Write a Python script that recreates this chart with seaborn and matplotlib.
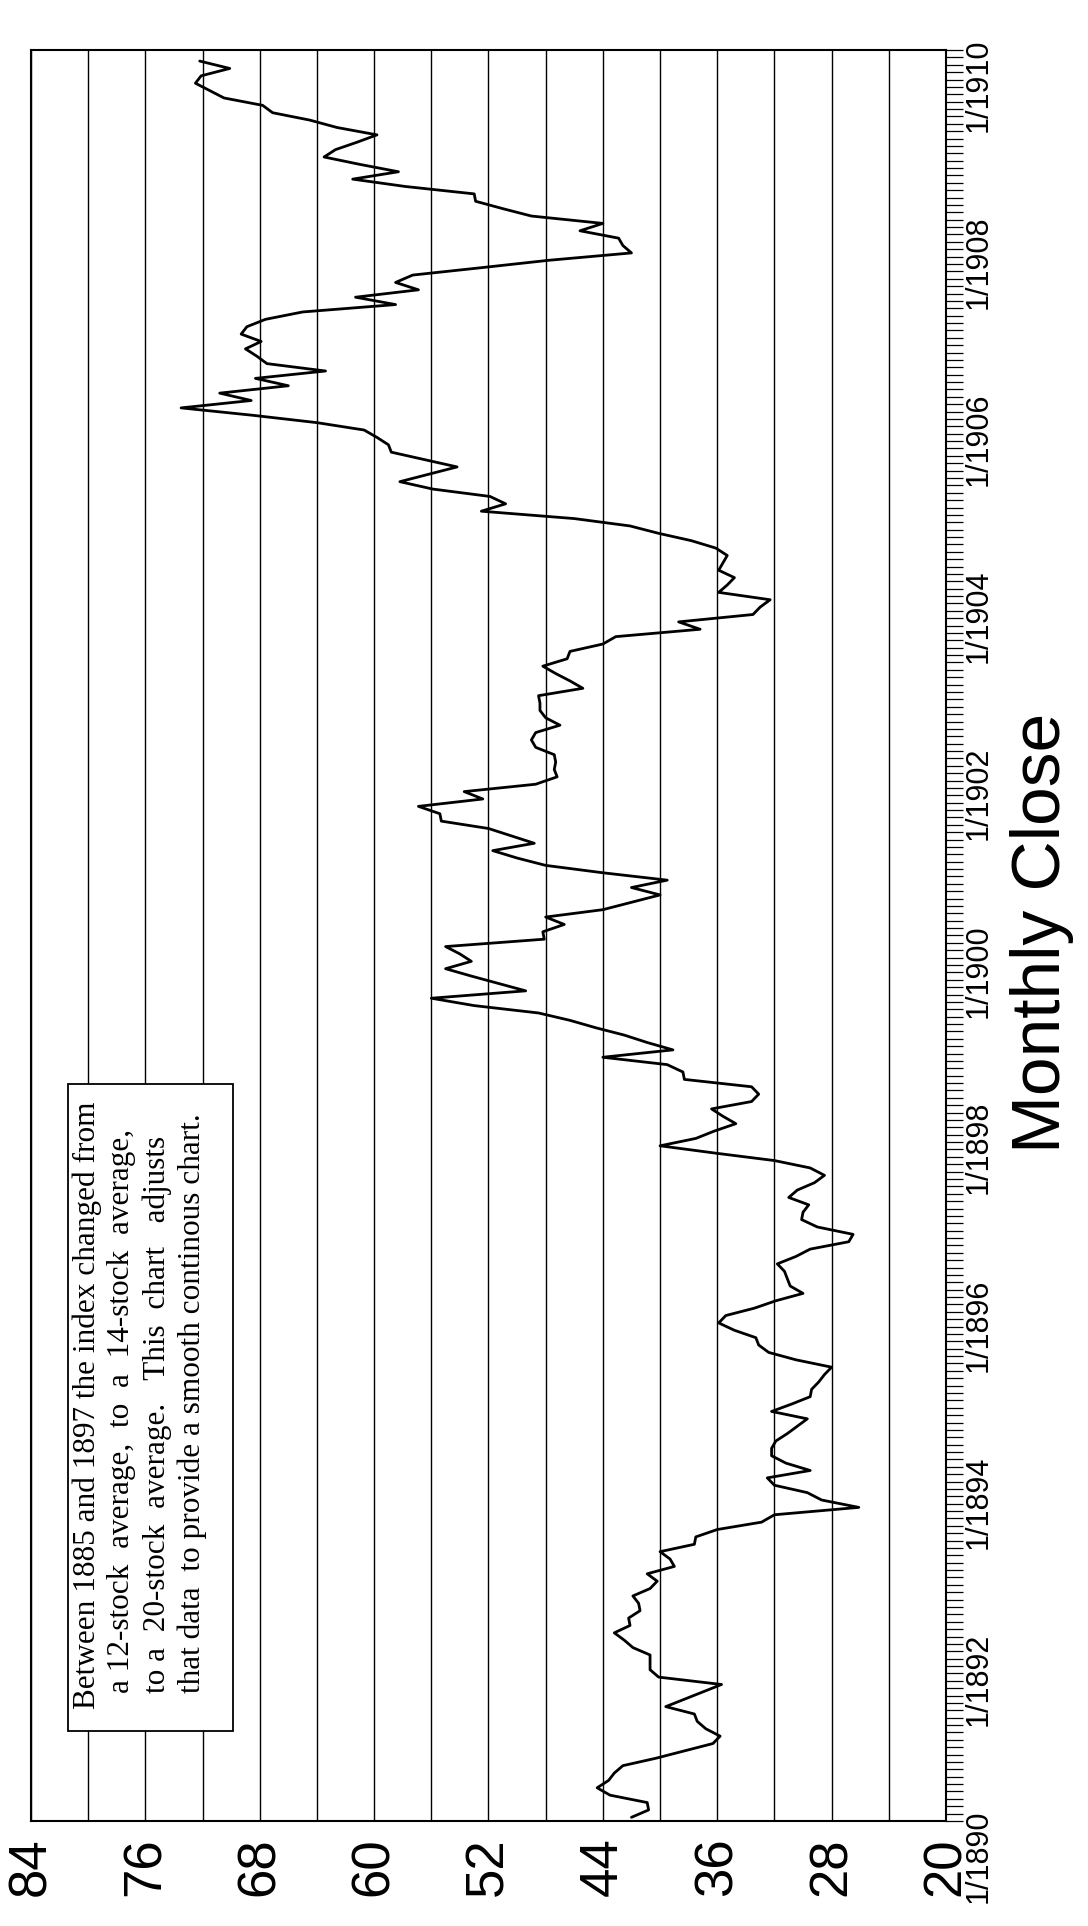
import numpy as np
import pandas as pd
import matplotlib
matplotlib.use("Agg")
import matplotlib.pyplot as plt
import matplotlib.ticker as mtick
from matplotlib import font_manager
from matplotlib.patches import Rectangle
import seaborn as sns

# monthly closes, one row per year starting Jan 1890
close_1890 = [42.0, 40.8, 40.9, 43.5, 44.4, 43.6, 43.2, 42.6, 40.3, 38.3, 36.3, 35.8]
close_1891 = [36.8, 37.4, 37.6, 39.6, 38.3, 37.0, 35.7, 40.1, 40.7, 40.7, 40.7, 41.9]
close_1892 = [42.5, 43.2, 42.1, 42.2, 41.4, 41.5, 41.9, 40.7, 40.2, 40.9, 39.0, 39.3]
close_1893 = [40.0, 37.6, 37.5, 36.0, 32.9, 32.0, 26.1, 28.7, 29.7, 32.0, 32.5, 29.5]
close_1894 = [31.2, 32.2, 32.2, 31.9, 31.1, 30.4, 29.7, 32.2, 30.8, 29.5, 29.4, 28.9]
close_1895 = [28.5, 28.0, 30.5, 32.4, 33.1, 33.3, 34.8, 35.9, 35.4, 33.4, 31.9, 30.0]
close_1896 = [30.9, 31.1, 31.3, 31.8, 30.5, 29.5, 26.8, 26.5, 29.0, 30.1, 30.0, 29.6]
close_1897 = [31.0, 30.4, 29.2, 28.5, 29.5, 32.0, 36.1, 40.0, 37.5, 36.2, 34.7, 35.6]
close_1898 = [36.4, 33.6, 33.1, 33.6, 38.3, 38.4, 39.5, 44.0, 39.1, 40.9, 42.5, 44.5]
close_1899 = [46.3, 48.5, 53.0, 56.0, 49.4, 51.3, 53.2, 55.0, 53.2, 54.0, 55.0, 48.1]
close_1900 = [48.2, 46.7, 48.0, 44.0, 42.0, 40.0, 42.0, 39.5, 44.0, 48.0, 50.0, 51.7]
close_1901 = [48.8, 50.4, 52.0, 55.3, 55.4, 56.9, 52.4, 53.7, 48.7, 47.2, 47.4, 47.3]
close_1902 = [47.4, 48.7, 49.0, 48.7, 47.0, 48.0, 48.4, 48.4, 48.5, 45.4, 46.3, 47.3]
close_1903 = [48.2, 46.5, 46.3, 44.0, 43.1, 37.2, 38.7, 33.5, 33.0, 32.3, 35.9, 35.3]
close_1904 = [34.8, 35.9, 35.6, 35.3, 36.1, 37.8, 40.1, 42.1, 46.0, 52.5, 50.8, 51.9]
close_1905 = [55.9, 58.2, 56.2, 54.2, 56.5, 58.8, 59.0, 59.8, 60.7, 64.0, 68.5, 73.5]
close_1906 = [68.6, 70.8, 66.0, 68.3, 63.4, 67.5, 68.2, 69.0, 67.9, 69.3, 68.9, 67.6]
close_1907 = [65.0, 58.5, 61.3, 56.9, 58.5, 57.3, 52.5, 47.8, 42.0, 42.6, 42.9, 45.6]
close_1908 = [44.0, 49.0, 51.0, 52.9, 53.0, 57.8, 61.5, 58.3, 61.0, 63.5, 62.7, 61.2]
close_1909 = [59.8, 62.6, 64.5, 67.1, 67.8, 70.5, 71.5, 72.5, 72.1, 70.1, 72.2]

monthly_close = (close_1890 + close_1891 + close_1892 + close_1893 + close_1894
                 + close_1895 + close_1896 + close_1897 + close_1898 + close_1899
                 + close_1900 + close_1901 + close_1902 + close_1903 + close_1904
                 + close_1905 + close_1906 + close_1907 + close_1908 + close_1909)

value_ticks = list(range(20, 85, 4))
value_labels = [str(v) if (84 - v) % 8 == 0 else "" for v in value_ticks]
year_ticks = list(range(1890, 1911, 2))
year_labels = [f"1/{y}" for y in year_ticks]

title = "Monthly Close"
note_lines = [
    "Between 1885 and 1897 the index changed from",
    "a 12-stock  average,  to  a  14-stock  average,",
    "to a  20-stock  average.   This  chart   adjusts",
    "that data  to provide a smooth continous chart.",
]

# month i plotted in the middle of its month slot
months = np.arange(len(monthly_close))
df = pd.DataFrame({"t": 1890 + (months + 0.5) / 12, "close": monthly_close})


def pick_font(names):
    for name in names:
        try:
            font_manager.findfont(name, fallback_to_default=False)
            return name
        except Exception:
            continue
    return "DejaVu Sans"


sns.set_style("white")
plt.rcParams["font.family"] = ["Liberation Sans", "DejaVu Sans"]
narrow = pick_font(["Liberation Sans Narrow", "Liberation Sans"])
serif = pick_font(["Liberation Serif", "DejaVu Serif"])

W, H = 1088, 1926
fig = plt.figure(figsize=(W / 100, H / 100), dpi=100)
fig.patch.set_facecolor("white")
ax = fig.add_axes([31 / W, 105 / H, 915 / W, 1771 / H])

# the chart is turned on its side: value runs right-to-left, time runs upward
sns.lineplot(data=df, x="close", y="t", orient="y", sort=False, estimator=None,
             color="black", linewidth=2.0, ax=ax)

ax.set_xlim(84, 20)
ax.set_ylim(1890, 1910)
ax.set_xlabel("")
ax.set_ylabel("")

ax.set_xticks(value_ticks)
ax.set_xticklabels(value_labels, rotation=90, fontsize=38)
ax.tick_params(axis="x", direction="out", length=11, width=1.0, pad=1, colors="black")
ax.grid(axis="x", color="black", linewidth=1.0)
ax.grid(axis="y", visible=False)

ax.yaxis.tick_right()
ax.set_yticks(year_ticks)
ax.set_yticklabels(year_labels, rotation=90, fontsize=22, family=narrow)
ax.yaxis.set_minor_locator(mtick.MultipleLocator(1 / 12))
ax.tick_params(axis="y", which="both", direction="out", length=12, width=0.9,
               right=True, left=False, pad=1, colors="black")

for side in ax.spines.values():
    side.set_visible(True)
    side.set_color("black")
    side.set_linewidth(1.5)

fig.text(1042 / W, 1 - 933 / H, title, rotation=90, ha="center", va="center",
         fontsize=50, color="black")

# note box, opaque so the gridlines stop at its edge
box = Rectangle((68 / W, 1 - 1731 / H), 165 / W, 647 / H, transform=fig.transFigure,
                facecolor="white", edgecolor="black", linewidth=1.3, zorder=3, clip_on=False)
ax.add_patch(box)

line_x = [87, 122, 157, 192]
line_start = [1709, 1693, 1693, 1693]
for txt, lx, ly in zip(note_lines, line_x, line_start):
    ax.text(lx / W, 1 - ly / H, txt, transform=fig.transFigure, rotation=90,
            rotation_mode="anchor", ha="left", va="center", fontsize=22.5,
            family=serif, color="black", zorder=4)

fig.savefig("out.png", dpi=100, facecolor="white")
